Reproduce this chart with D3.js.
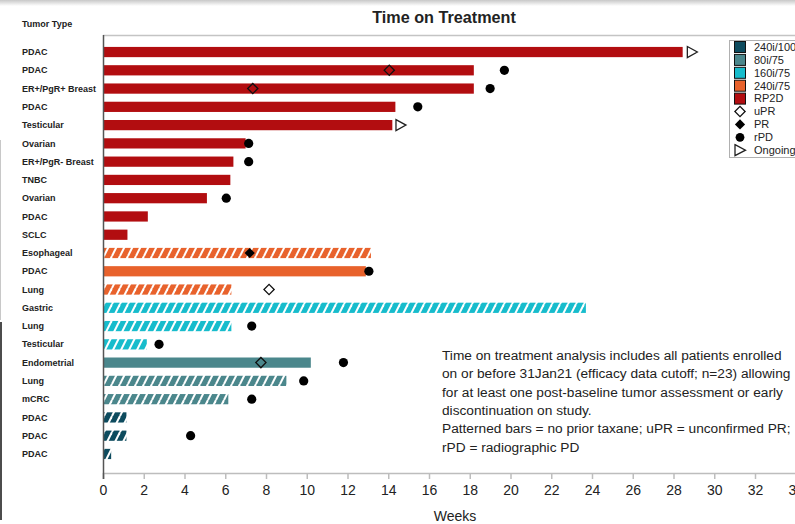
<!DOCTYPE html>
<html><head><meta charset="utf-8">
<script src="https://cdn.jsdelivr.net/npm/d3@7"></script>
<style>
html,body{margin:0;padding:0;background:#fff;}
svg{display:block;font-family:"Liberation Sans",Arial,sans-serif;}
</style></head>
<body><svg id="chart" width="795" height="524"></svg>
<script>
// ---------- data ----------
const tumorTypes = ["PDAC","PDAC","ER+/PgR+ Breast","PDAC","Testicular","Ovarian","ER+/PgR- Breast","TNBC","Ovarian","PDAC","SCLC","Esophageal","PDAC","Lung","Gastric","Lung","Testicular","Endometrial","Lung","mCRC","PDAC","PDAC","PDAC"];
const doseGroups = ["RP2D","RP2D","RP2D","RP2D","RP2D","RP2D","RP2D","RP2D","RP2D","RP2D","RP2D","240i/75","240i/75","240i/75","160i/75","160i/75","160i/75","80i/75","80i/75","80i/75","240i/100","240i/100","240i/100"];
const weeksOnTreatment = [28.45,18.2,18.2,14.35,14.2,7.0,6.4,6.25,5.1,2.2,1.2,13.15,12.9,6.3,23.7,6.3,2.15,10.2,9.0,6.15,1.15,1.15,0.4];
const noPriorTaxane = [false,false,false,false,false,false,false,false,false,false,false,true,false,true,true,true,true,false,true,true,true,true,true];
const uPRWeeks = [null,14.05,7.35,null,null,null,null,null,null,null,null,null,null,8.15,null,null,null,7.75,null,null,null,null,null];
const PRWeeks = [null,null,null,null,null,null,null,null,null,null,null,7.2,null,null,null,null,null,null,null,null,null,null,null];
const rPDWeeks = [null,19.7,19.0,15.45,null,7.15,7.15,null,6.05,null,null,null,13.05,null,null,7.3,2.75,11.8,9.85,7.3,null,4.3,null];
const ongoingWeeks = [28.9,null,null,null,14.6,null,null,null,null,null,null,null,null,null,null,null,null,null,null,null,null,null,null];
const legendGroups = ["240i/100","80i/75","160i/75","240i/75","RP2D"];
const groupColors = ["#0d4b5e","#4b878c","#17bccc","#e8622c","#b20d10"];
const xTicks = d3.range(0, 35, 2);

// ---------- setup ----------
const svg = d3.select("#chart");
const W = 795, H = 524;
const x = d3.scaleLinear().domain([0, 34]).range([103, 103 + 34 * 20.375]);
const y = d3.scaleBand().domain(d3.range(tumorTypes.length)).range([42.9, 463.1]).paddingInner(0.44).paddingOuter(0.22);
const color = d3.scaleOrdinal().domain(legendGroups).range(groupColors);

const defs = svg.append("defs");
// top shadow
const g0 = defs.append("linearGradient").attr("id","topShade").attr("x1",0).attr("x2",0).attr("y1",0).attr("y2",1);
g0.append("stop").attr("offset",0).attr("stop-color","#c8c8c8");
g0.append("stop").attr("offset",1).attr("stop-color","#ffffff");
svg.append("rect").attr("x",0).attr("y",0).attr("width",W).attr("height",6).attr("fill","url(#topShade)");
// edge artifacts
svg.append("line").attr("x1",0.5).attr("x2",0.5).attr("y1",140).attr("y2",320).attr("stroke","#c8c8c8").attr("stroke-width",1);
svg.append("line").attr("x1",1).attr("x2",1).attr("y1",322).attr("y2",520).attr("stroke","#111").attr("stroke-width",1.5);

// hatch patterns
legendGroups.forEach((g, i) => {
  const p = defs.append("pattern").attr("id","hatch" + i).attr("patternUnits","userSpaceOnUse")
    .attr("width",8).attr("height",16);
  p.append("rect").attr("width",8).attr("height",16).attr("fill",groupColors[i]);
  [[-8,16,0,0],[0,16,8,0],[8,16,16,0]].forEach(c => {
    p.append("line").attr("x1",c[0]).attr("y1",c[1]).attr("x2",c[2]).attr("y2",c[3])
      .attr("stroke","#fff").attr("stroke-width",2);
  });
});

// title
svg.append("text").attr("x",444).attr("y",23).attr("text-anchor","middle")
  .attr("font-size",16.2).attr("font-weight","bold").attr("fill","#222").text("Time on Treatment");
svg.append("text").attr("x",22).attr("y",27).attr("font-size",9).attr("font-weight","bold").attr("fill","#222").text("Tumor Type");

// frame top line
svg.append("line").attr("x1",103).attr("x2",W).attr("y1",35.5).attr("y2",35.5).attr("stroke","#c4c4c4").attr("stroke-width",1.5);

// y labels
svg.append("g").selectAll("text").data(tumorTypes).join("text")
  .attr("x",22).attr("y",(d,i)=>y(i)+y.bandwidth()/2).attr("dy","0.35em")
  .attr("font-size",9).attr("font-weight","bold").attr("fill","#222").text(d=>d);

// bars
svg.append("g").selectAll("rect").data(weeksOnTreatment).join("rect")
  .attr("x",x(0)).attr("y",(d,i)=>y(i)).attr("height",y.bandwidth())
  .attr("width",d=>x(d)-x(0))
  .attr("fill",(d,i)=> noPriorTaxane[i] ? "url(#hatch" + legendGroups.indexOf(doseGroups[i]) + ")" : color(doseGroups[i]));

// x axis
const xAxis = svg.append("g").attr("transform","translate(0,473)")
  .call(d3.axisBottom(x).tickValues(xTicks).tickSize(6).tickPadding(6).tickFormat(d3.format("d")));
xAxis.select(".domain").attr("stroke","#bdbdbd").attr("stroke-width",1.5);
xAxis.selectAll(".tick line").attr("stroke","#bdbdbd").attr("stroke-width",1.5);
xAxis.selectAll(".tick text").attr("font-size",14).attr("fill","#222").attr("font-family","Liberation Sans, Arial, sans-serif");
svg.append("text").attr("x",455).attr("y",521).attr("text-anchor","middle").attr("font-size",14).attr("fill","#222").text("Weeks");

// y axis line
svg.append("line").attr("x1",x(0)+0.5).attr("x2",x(0)+0.5).attr("y1",35).attr("y2",479).attr("stroke","#555").attr("stroke-width",1.5);

// markers
const cy = i => y(i) + y.bandwidth()/2;
const diamond = d3.symbol().type(d3.symbolSquare).size(52);
const mk = svg.append("g");
uPRWeeks.forEach((v,i)=>{ if(v!==null) mk.append("path").attr("d",diamond())
  .attr("transform",`translate(${x(v)},${cy(i)}) rotate(45)`).attr("fill","none").attr("stroke","#111").attr("stroke-width",1.3); });
PRWeeks.forEach((v,i)=>{ if(v!==null) mk.append("path").attr("d",diamond())
  .attr("transform",`translate(${x(v)},${cy(i)}) rotate(45)`).attr("fill","#000"); });
rPDWeeks.forEach((v,i)=>{ if(v!==null) mk.append("circle").attr("cx",x(v)).attr("cy",cy(i)).attr("r",4.6).attr("fill","#000"); });
ongoingWeeks.forEach((v,i)=>{ if(v!==null) mk.append("path")
  .attr("d",`M${x(v)-4.5},${cy(i)-5.5}L${x(v)+5.5},${cy(i)}L${x(v)-4.5},${cy(i)+5.5}Z`)
  .attr("fill","#fff").attr("stroke","#222").attr("stroke-width",1.3); });

// legend
const lg = svg.append("g");
lg.append("rect").attr("x",729.5).attr("y",40.5).attr("width",80).attr("height",117).attr("fill","#fff").attr("stroke","#b0b0b0");
const ly = i => 47 + i*12.9;
legendGroups.forEach((g,i)=>{
  lg.append("rect").attr("x",734.5).attr("y",ly(i)-5.5).attr("width",11).attr("height",11).attr("fill",groupColors[i]).attr("stroke","#111").attr("stroke-width",1);
  lg.append("text").attr("x",754).attr("y",ly(i)).attr("dy","0.35em").attr("font-size",11).attr("fill","#222").text(g);
});
const symLabels = ["uPR","PR","rPD","Ongoing"];
symLabels.forEach((s,k)=>{
  const i = k + 5, yy = ly(i), xx = 740;
  if (s==="uPR") lg.append("path").attr("d",diamond()).attr("transform",`translate(${xx},${yy}) rotate(45)`).attr("fill","#fff").attr("stroke","#111").attr("stroke-width",1.3);
  if (s==="PR") lg.append("path").attr("d",diamond()).attr("transform",`translate(${xx},${yy}) rotate(45)`).attr("fill","#000");
  if (s==="rPD") lg.append("circle").attr("cx",xx).attr("cy",yy).attr("r",4.4).attr("fill","#000");
  if (s==="Ongoing") lg.append("path").attr("d",`M${xx-5},${yy-5.5}L${xx+5.5},${yy}L${xx-5},${yy+5.5}Z`).attr("fill","#fff").attr("stroke","#222").attr("stroke-width",1.3);
  lg.append("text").attr("x",754).attr("y",yy).attr("dy","0.35em").attr("font-size",11).attr("fill","#222").text(s);
});

// annotation
const notes = ["Time on treatment analysis includes all patients enrolled",
 "on or before 31Jan21 (efficacy data cutoff; n=23) allowing",
 "for at least one post-baseline tumor assessment or early",
 "discontinuation on study.",
 "Patterned bars = no prior taxane; uPR = unconfirmed PR;",
 "rPD = radiographic PD"];
svg.append("g").selectAll("text").data(notes).join("text")
  .attr("x",442).attr("y",(d,i)=>360 + i*18.3).attr("font-size",13.7).attr("fill","#222").text(d=>d);
</script></body></html>
